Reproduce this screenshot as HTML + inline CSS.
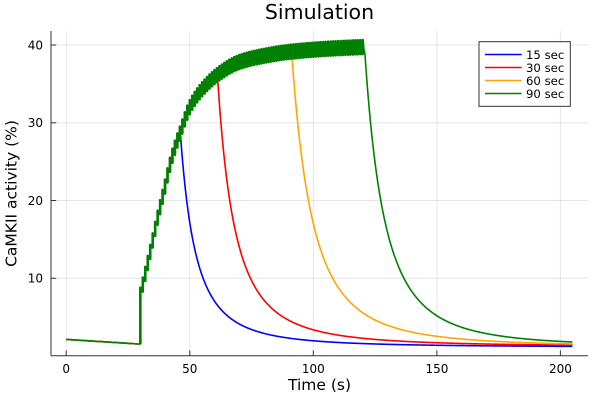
<!DOCTYPE html>
<html><head><meta charset="utf-8"><style>
html,body{margin:0;padding:0;background:#fff;}
svg{display:block;font-family:"DejaVu Sans","Liberation Sans",sans-serif;}
</style></head><body>
<svg id="c" width="600" height="400" viewBox="0 0 600 400" xmlns="http://www.w3.org/2000/svg">
<rect x="0" y="0" width="600" height="400" fill="#fff"/>
<g stroke="#000" stroke-opacity="0.1" stroke-width="1">
<line x1="66.2" y1="31" x2="66.2" y2="355.7"/>
<line x1="189.8" y1="31" x2="189.8" y2="355.7"/>
<line x1="313.3" y1="31" x2="313.3" y2="355.7"/>
<line x1="436.9" y1="31" x2="436.9" y2="355.7"/>
<line x1="560.4" y1="31" x2="560.4" y2="355.7"/>
<line x1="51" y1="278.3" x2="588" y2="278.3"/>
<line x1="51" y1="200.5" x2="588" y2="200.5"/>
<line x1="51" y1="122.8" x2="588" y2="122.8"/>
<line x1="51" y1="45.0" x2="588" y2="45.0"/>
</g>
<g id="series" fill="none" stroke-linejoin="round" stroke-linecap="butt"></g>
<g stroke="#333" stroke-width="1">
<line x1="51" y1="31" x2="51" y2="355.7"/>
<line x1="51" y1="355.7" x2="588" y2="355.7"/>
<line x1="66.2" y1="355.7" x2="66.2" y2="350.5"/>
<line x1="189.8" y1="355.7" x2="189.8" y2="350.5"/>
<line x1="313.3" y1="355.7" x2="313.3" y2="350.5"/>
<line x1="436.9" y1="355.7" x2="436.9" y2="350.5"/>
<line x1="560.4" y1="355.7" x2="560.4" y2="350.5"/>
<line x1="51" y1="278.3" x2="56.2" y2="278.3"/>
<line x1="51" y1="200.5" x2="56.2" y2="200.5"/>
<line x1="51" y1="122.8" x2="56.2" y2="122.8"/>
<line x1="51" y1="45.0" x2="56.2" y2="45.0"/>
</g>
<g font-size="12" fill="#000" text-anchor="middle">
<text x="66.2" y="373">0</text>
<text x="189.8" y="373">50</text>
<text x="313.3" y="373">100</text>
<text x="436.9" y="373">150</text>
<text x="560.4" y="373">200</text>
</g>
<g font-size="12" fill="#000" text-anchor="end">
<text x="43" y="282.6">10</text>
<text x="43" y="204.8">20</text>
<text x="43" y="127.1">30</text>
<text x="43" y="49.3">40</text>
</g>
<text x="319.5" y="390" font-size="15.5" text-anchor="middle" fill="#000">Time (s)</text>
<text transform="translate(16.5,193.5) rotate(-90)" font-size="15.5" text-anchor="middle" fill="#000">CaMKII activity (%)</text>
<text x="319.5" y="19" font-size="20.5" text-anchor="middle" fill="#000">Simulation</text>
<rect x="479" y="41.7" width="91.3" height="64.6" fill="#fff" stroke="#333" stroke-width="1"/>
<g stroke-width="1.6">
<line x1="485" y1="54.5" x2="521.7" y2="54.5" stroke="#0000ff"/>
<line x1="485" y1="67.5" x2="521.7" y2="67.5" stroke="#ff0000"/>
<line x1="485" y1="80.5" x2="521.7" y2="80.5" stroke="#ffa500"/>
<line x1="485" y1="93.5" x2="521.7" y2="93.5" stroke="#008000"/>
</g>
<g font-size="11.7" fill="#000">
<text x="526" y="58.8">15 sec</text>
<text x="526" y="71.8">30 sec</text>
<text x="526" y="84.8">60 sec</text>
<text x="526" y="97.8">90 sec</text>
</g>
</svg>
<script>
(function(){
var X=function(t){return 66.2+2.471*t;};
var Y=function(v){return 356.1-7.778*v;};
function mono(pts){
  var n=pts.length,xs=pts.map(function(p){return p[0];}),ys=pts.map(function(p){return p[1];});
  var d=[],m=[],i;
  for(i=0;i<n-1;i++)d.push((ys[i+1]-ys[i])/(xs[i+1]-xs[i]));
  m[0]=d[0];m[n-1]=d[n-2];
  for(i=1;i<n-1;i++){
    if(d[i-1]*d[i]<=0)m[i]=0;
    else{var h1=xs[i]-xs[i-1],h2=xs[i+1]-xs[i];var w1=2*h2+h1,w2=h2+2*h1;m[i]=(w1+w2)/(w1/d[i-1]+w2/d[i]);}
  }
  return function(t){
    var j=0;while(j<n-2&&t>xs[j+1])j++;
    var h=xs[j+1]-xs[j],s=(t-xs[j])/h;
    var s2=s*s,s3=s2*s;
    return (2*s3-3*s2+1)*ys[j]+(s3-2*s2+s)*h*m[j]+(-2*s3+3*s2)*ys[j+1]+(s3-s2)*h*m[j+1];
  };
}
var M=mono([[30,7.9],[31,9.2],[34,13.4],[37,17.8],[40,21.8],[42,24.6],[44,26.8],[46,28.6],[50,32.0],[55,34.3],[62.2,36.4],[70,37.8],[80,38.6],[90,39.1],[105,39.5],[121,39.75],[125,39.8]]);
var A=1.8,tau=0.3,E1=Math.exp(-1/tau);
function S(t){
  var k=Math.floor(t-30+1e-9),tk=30+k,s=t-tk;
  var U=M(tk)+A/2,L=M(tk+1)-A/2;
  return L+(U-L)*(Math.exp(-s/tau)-E1)/(1-E1);
}
var G=document.getElementById("series");
function addPath(d,color,w){
  var el=document.createElementNS("http://www.w3.org/2000/svg","path");
  el.setAttribute("d",d);el.setAttribute("stroke",color);el.setAttribute("stroke-width",w);
  G.appendChild(el);
}
function build(te,b,c,p,color,wStim){
  var d1="M"+X(0).toFixed(2)+" "+Y(2.14).toFixed(2)+" L"+X(30).toFixed(2)+" "+Y(1.54).toFixed(2);
  var d2="M"+X(30).toFixed(2)+" "+Y(1.54).toFixed(2);
  var tk=30;
  while(tk<te){
    d2+=" L"+X(tk).toFixed(2)+" "+Y(M(tk)+A/2).toFixed(2);
    var ss=[0.1,0.2,0.35,0.5,0.75,1.0];
    for(var q=0;q<ss.length;q++){
      var s=ss[q],t=tk+s;
      if(t>te){break;}
      var v=(s>0.999)?(M(tk+1)-A/2):S(t);
      d2+=" L"+X(t).toFixed(2)+" "+Y(v).toFixed(2);
    }
    tk+=1;
  }
  var ve=S(te);
  d2+=" L"+X(te).toFixed(2)+" "+Y(ve).toFixed(2);
  var d3="M"+X(te).toFixed(2)+" "+Y(ve).toFixed(2);
  var E0=ve-b;
  for(var t2=te+0.2;t2<=205.0001;t2+=0.2){
    var vv=b+E0*Math.pow(1+(t2-te)/c,-p);
    d3+=" L"+X(t2).toFixed(2)+" "+Y(vv).toFixed(2);
  }
  addPath(d1,color,1.6);
  addPath(d3,color,1.6);
  addPath(d2,color,wStim);
}
build(46.05,1.15,13.5,2.2,"#0000ff",2.2);
build(61.15,1.2,15.3,2.2,"#ff0000",2.2);
build(91.3,1.2,21,2.5,"#ffa500",2.2);
build(120.9,1.2,20,2.5,"#008000",2.6);
})();
</script>
</body></html>
